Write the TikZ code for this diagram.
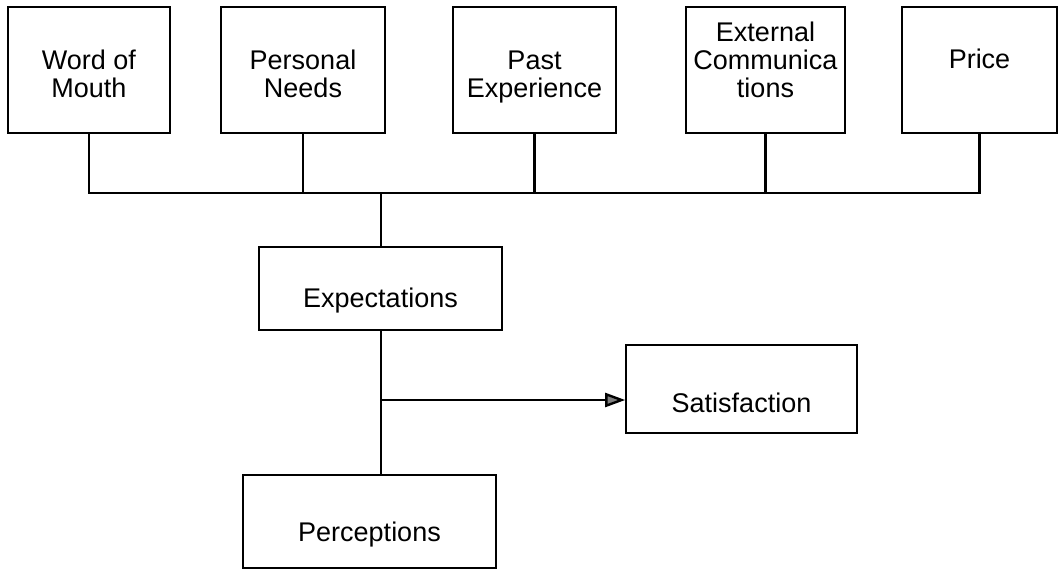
\documentclass[tikz,border=0pt]{standalone}
\usepackage{fontspec}
\setmainfont{Liberation Sans}
\usetikzlibrary{arrows.meta}

\begin{document}
\begin{tikzpicture}[x=1pt,y=-1pt,
  box/.style={draw,line width=1.6pt,inner sep=0pt,align=center,font=\fontsize{27}{28}\selectfont},
  source/.style={box,minimum width=#1,text height=90.5pt,text depth=35.5pt},
  link/.style={line width=2.4pt}]
\useasboundingbox (0,0) rectangle (1058,570);
\node [source=162pt] (wom) at (89,70) {Word of\\Mouth};
\node [source=164pt] (needs) at (303,70) {Personal\\Needs};
\node [source=163pt] (past) at (534.5,70) {Past\\Experience};
\node [source=159pt] (ext) at (765.5,70) {External\\Communica\\tions};
\node [source=155pt,text height=61.5pt,text depth=64.5pt] (price) at (979.5,70) {Price};
\node [box,minimum width=243pt,text height=60pt,text depth=23pt] (expect) at (380.5,288.5) {Expectations};
\node [box,minimum width=231pt,text height=67.5pt,text depth=20.5pt] (satis) at (741.5,389) {Satisfaction};
\node [box,minimum width=253pt,text height=66.5pt,text depth=26.5pt] (percep) at (369.5,521.5) {Perceptions};
\coordinate (bus) at (381,193);
\draw [link] (wom.south) |- (bus) -| (price.south);
\foreach \n in {needs,past,ext}
  \draw [link] (\n.south) -- (\n.south |- bus);
\draw [link] (bus) -- (bus |- expect.north);
\draw [link] (bus |- expect.south) -- (bus |- percep.north);
\coordinate (tip) at ([yshift=-11pt]satis.west);
\draw [link,-{Triangle[length=20pt,width=14pt,fill=gray]}] (bus |- tip) -- (tip);
\end{tikzpicture}
\end{document}
